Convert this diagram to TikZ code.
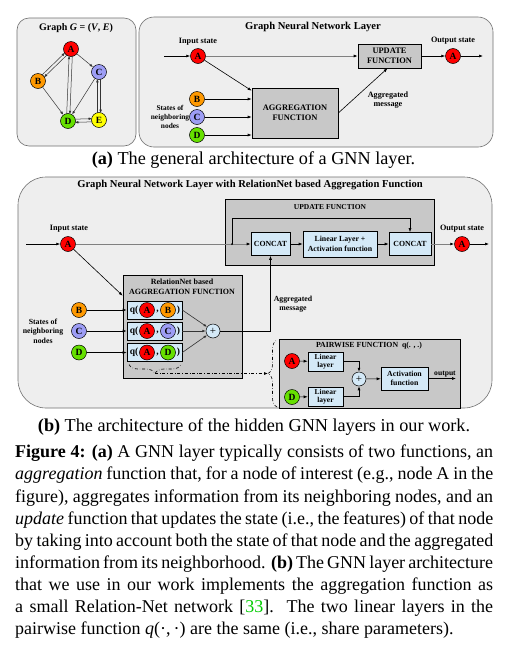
\documentclass[tikz,border=0pt]{standalone}
\usepackage{fontspec}
\setmainfont{Liberation Serif}
\usetikzlibrary{arrows.meta,calc,decorations.pathreplacing}

\definecolor{panelbg}{HTML}{EEEEEE}
\definecolor{panelbd}{HTML}{707070}
\definecolor{fgray}{HTML}{C8C8C8}
\definecolor{lblue}{HTML}{D4E9F7}
\definecolor{cA}{HTML}{FF0000}
\definecolor{cB}{HTML}{FF9900}
\definecolor{cC}{HTML}{9D9DF5}
\definecolor{cD}{HTML}{66E000}
\definecolor{cE}{HTML}{FFFF00}
\definecolor{citegreen}{HTML}{00CC00}

\newcommand\fsz[2]{\fontsize{#1}{#2}\selectfont}

\begin{document}
\begin{tikzpicture}[x=1pt,y=-1pt,
  >={Latex[length=4pt,width=3pt]},
  panel/.style={draw=panelbd, fill=panelbg, line width=0.6pt},
  vn/.style={circle, draw=black, line width=0.5pt, minimum size=15pt, inner sep=0pt, font=\bfseries\fsz{9.5}{9.5}},
  fbox/.style={draw=black, fill=fgray, line width=0.6pt, align=center, inner sep=0pt},
  bbox/.style={draw=black, fill=lblue, line width=0.6pt, align=center, inner sep=0pt},
  lbl/.style={font=\bfseries\fsz{8.2}{9.5}, align=center, inner sep=0pt},
  ttl/.style={font=\bfseries\fsz{10.6}{12}, inner sep=0pt},
  qt/.style={font=\bfseries\fsz{9.5}{9.5}, inner sep=0pt},
  arr/.style={-{Latex[length=4pt,width=3pt]}, line width=0.6pt},
  garr/.style={-{Latex[length=4pt,width=3pt,color=black]}, line width=0.9pt, draw=gray},
  sarr/.style={-{Latex[length=3.5pt,width=2.6pt]}, line width=0.5pt, draw=black!80},
  plus/.style={circle, draw=black, fill=lblue, line width=0.5pt, minimum size=14pt, inner sep=0pt, font=\fsz{11}{11}},
  capl/.style={anchor=base west, inner sep=0pt, font=\fsz{18}{22}},
  ddash/.style={dash dot, line width=0.6pt},
]
\useasboundingbox (0,0) rectangle (512,654);
\fill[white] (0,0) rectangle (512,654);

% ---------------- panels
\draw[panel, rounded corners=12pt] (17,18) rectangle (136,146);
\draw[panel, rounded corners=15pt] (139,17) rectangle (493,147);
\draw[panel, rounded corners=28pt] (18,177) rectangle (492,408);

% ---------------- graph G
\node[ttl, font=\bfseries\fsz{10}{12}] (gtitle) at (76,28) {Graph \textit{G} = (\textit{V}, \textit{E})};
\node[vn, fill=cA] (gA) at (71,49) {A};
\node[vn, fill=cB] (gB) at (38,81) {B};
\node[vn, fill=cC] (gC) at (99,72) {C};
\node[vn, fill=cD] (gD) at (68,121) {D};
\node[vn, fill=cE] (gE) at (99,120) {E};
\draw[sarr, shorten <=6.8pt, shorten >=6.8pt] ($(gA)!1.5pt!90:(gB)$) -- ($(gB)!1.5pt!-90:(gA)$);
\draw[sarr, shorten <=6.8pt, shorten >=6.8pt] ($(gB)!1.5pt!90:(gA)$) -- ($(gA)!1.5pt!-90:(gB)$);
\draw[sarr, shorten <=6.8pt, shorten >=6.8pt] ($(gA)!1.6pt!90:(gD)$) -- ($(gD)!1.6pt!-90:(gA)$);
\draw[sarr, shorten <=6.8pt, shorten >=6.8pt] ($(gD)!1.6pt!90:(gA)$) -- ($(gA)!1.6pt!-90:(gD)$);
\draw[sarr, shorten <=6.8pt, shorten >=6.8pt] ($(gC)!1.6pt!90:(gE)$) -- ($(gE)!1.6pt!-90:(gC)$);
\draw[sarr, shorten <=6.8pt, shorten >=6.8pt] ($(gE)!1.6pt!90:(gC)$) -- ($(gC)!1.6pt!-90:(gE)$);
\draw[sarr, shorten <=6.8pt, shorten >=6.8pt] ($(gD)!1.6pt!90:(gE)$) -- ($(gE)!1.6pt!-90:(gD)$);
\draw[sarr, shorten <=6.8pt, shorten >=6.8pt] ($(gE)!1.6pt!90:(gD)$) -- ($(gD)!1.6pt!-90:(gE)$);
\draw[sarr] (gA) -- (gC);
\draw[sarr] (gB) -- (gD);
\draw[sarr] (gC) -- (gD);

% ---------------- GNN layer (a)
\node[ttl] (t1) at (313,27) {Graph Neural Network Layer};
\node[lbl] (in1l) at (198,42) {Input state};
\node[vn, fill=cA] (A1) at (198,56) {A};
\coordinate (in1s) at (164,56);
\node[fbox, minimum width=63pt, minimum height=24pt, font=\bfseries\fsz{8.4}{9.5}] (upd1) at (389.5,56) {UPDATE\\FUNCTION};
\node[lbl] (out1l) at (453,41) {Output state};
\node[vn, fill=cA] (A1o) at (453,56) {A};
\coordinate (out1e) at (483,56);
\node[vn, fill=cB] (B1) at (197,99) {B};
\node[vn, fill=cC] (C1) at (197,117) {C};
\node[vn, fill=cD] (D1) at (197,135) {D};
\node[lbl, font=\bfseries\fsz{7.4}{9.3}] (st1) at (170,117) {States of\\neighboring\\nodes};
\node[fbox, minimum width=86pt, minimum height=50pt, font=\bfseries\fsz{8.4}{10}] (agg1) at (295,113) {AGGREGATION\\FUNCTION};
\node[lbl] (am1) at (388,100) {Aggregated\\message};

\draw[arr] (in1s) -- (A1);
\draw[garr] (A1) -- (upd1);
\draw[arr] (upd1) -- (A1o);
\draw[arr] (A1o) -- (out1e);
\draw[arr] (A1) -- ($(agg1.north west)+(0,3)$);
\draw[arr] (B1) -- (B1 -| agg1.west);
\draw[arr] (C1) -- (C1 -| agg1.west);
\draw[arr] (D1) -- (D1 -| agg1.west);
\draw[arr] (agg1.east) -- ($(upd1.south)+(-2,0)$);

\node[anchor=base, inner sep=0pt, font=\fsz{18.2}{20}] (capa) at (253.5,164) {\textbf{(a)} The general architecture of a GNN layer.};

% ---------------- GNN layer (b)
\node[ttl] (t2) at (250,185) {Graph Neural Network Layer with RelationNet based Aggregation Function};

\node[fbox, minimum width=209pt, minimum height=66pt] (updbox) at (329.5,232) {};
\node[lbl, font=\bfseries\fsz{7.5}{9}] (updt) at (330,207) {UPDATE FUNCTION};
\node[bbox, minimum width=39pt, minimum height=23pt, font=\bfseries\fsz{7.8}{9}] (cc1) at (270.5,244) {CONCAT};
\node[bbox, minimum width=74pt, minimum height=26pt, font=\bfseries\fsz{7.8}{9.5}] (lin) at (340,244) {Linear Layer +\\Activation function};
\node[bbox, minimum width=42pt, minimum height=23pt, font=\bfseries\fsz{7.8}{9}] (cc2) at (410,244) {CONCAT};
\node[lbl] (in2l) at (69,229) {Input state};
\node[vn, fill=cA] (A2) at (68,244) {A};
\coordinate (in2s) at (26,244);
\node[lbl] (out2l) at (462,229) {Output state};
\node[vn, fill=cA] (A3) at (462,244) {A};
\coordinate (out2e) at (489,244);
\coordinate (jn) at (232,244);
\coordinate (loopc) at (232,218);

\draw[arr] (in2s) -- (A2);
\draw[garr] (A2) -- (cc1);
\fill (jn) circle (1pt);
\draw[arr] (jn) -- (loopc) -| (cc2.north);
\draw[arr] (cc1) -- (lin);
\draw[arr] (lin) -- (cc2);
\draw[garr] (cc2) -- (A3);
\draw[arr] (A3) -- (out2e);

% aggregation (RelationNet)
\node[fbox, minimum width=119pt, minimum height=103pt] (agg2) at (182.5,326.5) {};
\node[lbl, font=\bfseries\fsz{8}{10}] (agg2t) at (182,287) {RelationNet based\\AGGREGATION FUNCTION};

\node[bbox, minimum width=55pt, minimum height=18pt] (q1) at (154.5,310) {};
\node[qt] (q1a) at (134,310) {q(};
\node[vn, fill=cA] (q1x) at (147,310) {A};
\node[qt] (q1c) at (157.5,312) {,};
\node[vn, fill=cB] (q1y) at (168,310) {B};
\node[qt] (q1p) at (178.5,310) {)};

\node[bbox, minimum width=55pt, minimum height=18pt] (q2) at (154.5,331) {};
\node[qt] (q2a) at (134,331) {q(};
\node[vn, fill=cA] (q2x) at (147,331) {A};
\node[qt] (q2c) at (157.5,333) {,};
\node[vn, fill=cC] (q2y) at (168,331) {C};
\node[qt] (q2p) at (178.5,331) {)};

\node[bbox, minimum width=55pt, minimum height=18pt] (q3) at (154.5,352.5) {};
\node[qt] (q3a) at (134,352.5) {q(};
\node[vn, fill=cA] (q3x) at (147,352.5) {A};
\node[qt] (q3c) at (157.5,354.5) {,};
\node[vn, fill=cD] (q3y) at (168,352.5) {D};
\node[qt] (q3p) at (178.5,352.5) {)};

\node[plus] (pl1) at (213,331) {+};

\node[vn, fill=cB] (B2) at (79,310) {B};
\node[vn, fill=cC] (C2) at (79,331) {C};
\node[vn, fill=cD] (D2) at (79,352.5) {D};
\node[lbl, font=\bfseries\fsz{7.8}{9.3}] (st2) at (43,331) {States of\\neighboring\\nodes};

\draw[arr] (A2) -- ($(agg2.north west)+(0,21)$);
\draw[arr] (B2) -- (q1);
\draw[arr] (C2) -- (q2);
\draw[arr] (D2) -- (q3);
\draw[sarr, line width=0.6pt] (q1.east) -- (pl1);
\draw[sarr, line width=0.6pt] (q2.east) -- (pl1);
\draw[sarr, line width=0.6pt] (q3.east) -- (pl1);
\draw[arr] (pl1) -| (cc1.south);
\node[lbl, font=\bfseries\fsz{7.8}{9}] (am2) at (293,304) {Aggregated\\message};

% braces
\coordinate (br1s) at (129,364.5);
\coordinate (br1e) at (181,364.5);
\coordinate (br1t) at (155,373.5);
\draw[ddash, decorate, decoration={brace, mirror, amplitude=9pt}] (br1s) -- (br1e);
\coordinate (br2s) at (277,407);
\coordinate (br2e) at (277,340);
\coordinate (br2t) at (268,373.5);
\draw[ddash, decorate, decoration={brace, amplitude=9pt}] (br2s) -- (br2e);
\draw[ddash, -{Latex[length=4pt,width=3pt]}] (br1t) -- (br2t);

% pairwise function
\node[fbox, minimum width=181pt, minimum height=69pt] (pw) at (369.5,373.5) {};
\node[lbl, font=\bfseries\fsz{7.8}{9}] (pwt) at (369,346) {PAIRWISE FUNCTION\ \ q(. , .)};
\node[vn, fill=cA] (A4) at (292,361) {A};
\node[vn, fill=cD] (D4) at (292,397) {D};
\node[bbox, minimum width=35pt, minimum height=19pt, font=\bfseries\fsz{7.5}{8.5}] (lin1) at (325.5,361.5) {Linear\\layer};
\node[bbox, minimum width=35pt, minimum height=19pt, font=\bfseries\fsz{7.5}{8.5}] (lin2) at (325.5,396.5) {Linear\\layer};
\node[plus] (pl2) at (359,379) {+};
\node[bbox, minimum width=47pt, minimum height=23pt, font=\bfseries\fsz{7.8}{9.5}] (act) at (404.5,378.5) {Activation\\function};
\coordinate (pwout) at (456,378.5);
\node[lbl, font=\bfseries\fsz{7.6}{9}, anchor=base] (outl) at (445,375) {output};
\draw[arr] (A4) -- (lin1);
\draw[arr] (D4) -- (lin2);
\draw[arr] (lin1) -| (pl2);
\draw[arr] (lin2) -| (pl2);
\draw[arr] (pl2) -- (act);
\draw[arr] (act) -- (pwout);

\node[anchor=base, inner sep=0pt, font=\fsz{18.2}{20}] (capb) at (254,431) {\textbf{(b)} The architecture of the hidden GNN layers in our work.};

% ---------------- caption
\node[capl] (c1) at (15,457) {\makebox[478pt][s]{\textbf{Figure 4:} \textbf{(a)} A GNN layer typically consists of two functions, an}};
\node[capl] (c2) at (15,479.5) {\makebox[478pt][s]{\textit{aggregation} function that, for a node of interest (e.g., node A in the}};
\node[capl] (c3) at (15,502) {\makebox[478pt][s]{figure), aggregates information from its neighboring nodes, and an}};
\node[capl] (c4) at (15,524) {\makebox[478pt][s]{\textit{update} function that updates the state (i.e., the features) of that node}};
\node[capl] (c5) at (15,546) {\makebox[478pt][s]{by taking into account both the state of that node and the aggregated}};
\node[capl] (c6) at (15,568) {\makebox[478pt][s]{information from its neighborhood. \textbf{(b)} The GNN layer architecture}};
\node[capl] (c7) at (15,590.5) {\makebox[478pt][s]{that we use in our work implements the aggregation function as}};
\node[capl] (c8) at (15,612.5) {\makebox[478pt][s]{a small Relation-Net network [\textcolor{citegreen}{33}].\ \ The two linear layers in the}};
\node[capl] (c9) at (15,634.5) {pairwise function \textit{q}(·,\,·) are the same (i.e., share parameters).};
\end{tikzpicture}
\end{document}
